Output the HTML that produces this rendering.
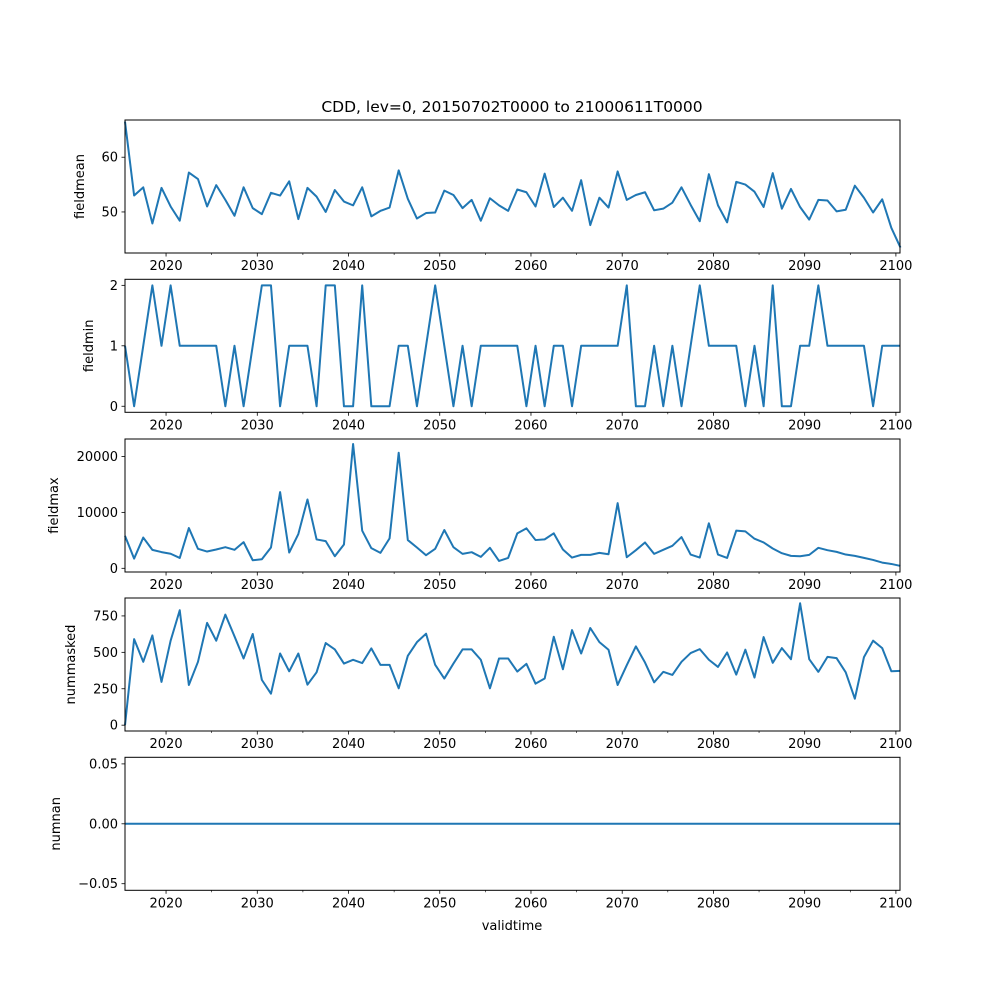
<!DOCTYPE html>
<html><head><meta charset="utf-8"><style>
body{margin:0;background:#fff;}
svg{display:block;font-family:"DejaVu Sans","Liberation Sans",sans-serif;}
</style></head><body>
<svg id="fig" width="1000" height="1000" viewBox="0 0 1000 1000"></svg>
<script>
const years = Array.from({length:86},(_, i)=>2015.5+i);
const fieldmean = [66.5,53,54.5,47.9,54.4,51,48.4,57.2,56,51,54.9,52.2,49.3,54.5,50.7,49.6,53.5,53,55.6,48.7,54.4,52.8,50,54,51.9,51.2,54.5,49.2,50.2,50.8,57.6,52.4,48.8,49.8,49.9,53.9,53.1,50.7,52.2,48.4,52.5,51.2,50.2,54.1,53.6,51,57,50.9,52.6,50.2,55.8,47.6,52.6,50.8,57.4,52.2,53.1,53.6,50.3,50.6,51.7,54.5,51.3,48.3,56.9,51.2,48.1,55.5,55,53.7,50.9,57.1,50.6,54.2,50.9,48.6,52.2,52.1,50.1,50.4,54.8,52.6,49.9,52.3,47.1,43.5];
const fieldmin = [1,0,1,2,1,2,1,1,1,1,1,0,1,0,1,2,2,0,1,1,1,0,2,2,0,0,2,0,0,0,1,1,0,1,2,1,0,1,0,1,1,1,1,1,0,1,0,1,1,0,1,1,1,1,1,2,0,0,1,0,1,0,1,2,1,1,1,1,0,1,0,2,0,0,1,1,2,1,1,1,1,1,0,1,1,1];
const fieldmax = [5800,1740,5500,3300,2900,2600,1860,7200,3480,3000,3360,3780,3300,4680,1440,1620,3720,13630,2820,6130,12310,5160,4860,2160,4260,22220,6730,3600,2760,5350,20660,5050,3720,2340,3480,6850,3780,2580,2880,2040,3660,1320,1860,6250,7150,5050,5170,6250,3360,1920,2400,2400,2760,2520,11650,1980,3240,4620,2580,3300,4020,5590,2460,1920,8050,2460,1860,6730,6600,5290,4620,3540,2700,2220,2160,2400,3660,3240,2940,2460,2220,1860,1500,1020,780,420];
const nummasked = [0,591,435,616,297,580,789,276,435,702,580,759,610,458,626,311,216,492,370,492,278,363,564,520,423,449,426,527,414,414,253,476,570,628,414,320,423,520,520,449,253,458,458,368,421,285,320,607,384,653,492,667,570,518,276,412,541,430,294,366,345,435,495,522,449,400,499,347,518,327,605,428,529,453,837,453,366,469,460,363,182,467,580,529,370,373];
const numnan = years.map(()=>0);
const xTicks = [2020,2030,2040,2050,2060,2070,2080,2090,2100];
const xMinor = [2025,2035,2045,2055,2065,2075,2085,2095];
const meanTicks=[50,60], minTicks=[0,1,2], maxTicks=[0,10000,20000], maskTicks=[0,250,500,750], nanTicks=[-0.05,0,0.05];
const nanTickLabels=["\u22120.05","0.00","0.05"];

const NS="http://www.w3.org/2000/svg";
const svg=document.getElementById('fig');
function mk(tag,attrs,parent){const e=document.createElementNS(NS,tag);for(const k in attrs)e.setAttribute(k,attrs[k]);(parent||svg).appendChild(e);return e;}
const L=125,R=900,H=133;
const xMin=2015.5,xMax=2100.45;
function xs(v){return L+(v-xMin)/(xMax-xMin)*(R-L);}

const panels=[
 {name:'fieldmean',top:120,data:fieldmean,lo:42.5,hi:66.8,ticks:meanTicks,labels:meanTicks.map(String),ylx:84},
 {name:'fieldmin',top:279.3,data:fieldmin,lo:-0.1,hi:2.1,ticks:minTicks,labels:minTicks.map(String),ylx:93},
 {name:'fieldmax',top:439,data:fieldmax,lo:-660,hi:23120,ticks:maxTicks,labels:maxTicks.map(String),ylx:58},
 {name:'nummasked',top:598,data:nummasked,lo:-40,hi:873,ticks:maskTicks,labels:maskTicks.map(String),ylx:75},
 {name:'numnan',top:757.3,data:numnan,lo:-0.0555,hi:0.0555,ticks:nanTicks,labels:nanTickLabels,ylx:60}
];
panels.forEach((p,pi)=>{
  const g=mk('g',{});
  
  
  const ys=v=>p.top+H-(v-p.lo)/(p.hi-p.lo)*H;
  // series
  let d='';
  p.data.forEach((v,i)=>{d+=(i?'L':'M')+xs(years[i]).toFixed(2)+','+ys(v).toFixed(2);});
  const line=mk('path',{d:d,fill:'none',stroke:'#1f77b4','stroke-width':2,'stroke-linejoin':'round'},g);
  
  
  // frame
  const fr=mk('rect',{x:L,y:p.top,width:R-L,height:H,fill:'none',stroke:'#000','stroke-width':1},g);
  
  
  // y ticks
  p.ticks.forEach((t,k)=>{
    const y=ys(t);
    mk('line',{x1:L-3.5,x2:L,y1:y,y2:y,stroke:'#000','stroke-width':0.8},g);
    const tx=mk('text',{x:L-7,y:y+4.5,'text-anchor':'end','font-size':13,fill:'#000'},g);
    tx.textContent=p.labels[k];
    
    
  });
  // x ticks
  const by=p.top+H;
  xTicks.forEach(t=>{
    const x=xs(t);
    mk('line',{x1:x,x2:x,y1:by,y2:by+3.5,stroke:'#000','stroke-width':0.8},g);
    const tx=mk('text',{x:x,y:by+17,'text-anchor':'middle','font-size':13,fill:'#000'},g);
    tx.textContent=String(t);
    
    
  });
  xMinor.forEach(t=>{const x=xs(t);mk('line',{x1:x,x2:x,y1:by,y2:by+2,stroke:'#000','stroke-width':0.6},g);});
  // y label
  const yl=mk('text',{x:p.ylx,y:p.top+H/2,'text-anchor':'middle','font-size':13,fill:'#000',transform:`rotate(-90 ${p.ylx} ${p.top+H/2})`},g);
  yl.textContent=p.name;
  
  
});
const title=mk('text',{x:512,y:112,'text-anchor':'middle','font-size':15.5,fill:'#000'});
title.textContent='CDD, lev=0, 20150702T0000 to 21000611T0000';


const xl=mk('text',{x:512,y:930,'text-anchor':'middle','font-size':13,fill:'#000'});
xl.textContent='validtime';


</script>
</body></html>
